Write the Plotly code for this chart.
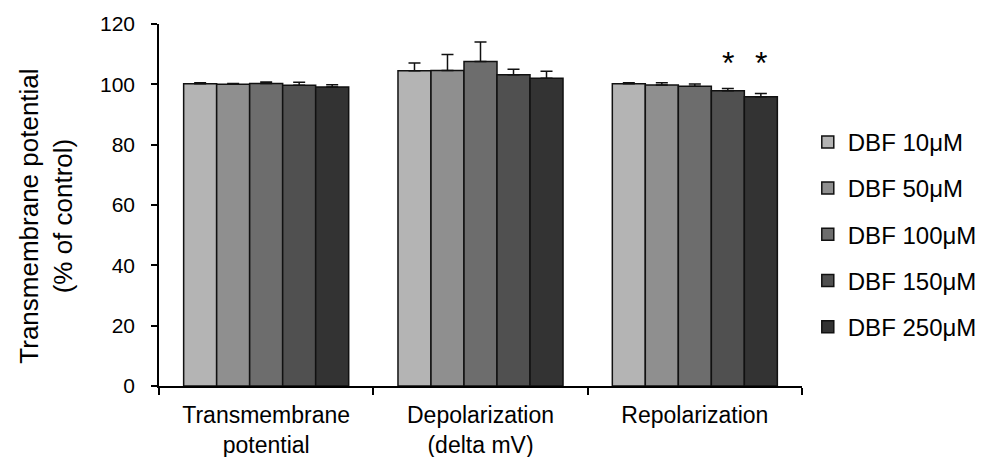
import plotly.graph_objects as go

categories = ["Transmembrane<br>potential", "Depolarization<br>(delta mV)", "Repolarization"]
series_names = ["DBF 10μM", "DBF 50μM", "DBF 100μM", "DBF 150μM", "DBF 250μM"]
values = [
    [100.2, 104.5, 100.2],
    [100.0, 104.6, 99.8],
    [100.3, 107.6, 99.4],
    [99.7, 103.2, 97.9],
    [99.1, 102.0, 95.9],
]
errors = [
    [0.3, 2.6, 0.3],
    [0.3, 5.3, 0.7],
    [0.5, 6.4, 0.7],
    [1.0, 1.8, 0.7],
    [0.8, 2.3, 1.1],
]
colors = ["#b4b4b4", "#8f8f8f", "#6d6d6d", "#505050", "#333333"]
star_category = "Repolarization"
star_series = [3, 4]
star_level = 107.2
y_ticks = [0, 20, 40, 60, 80, 100, 120]
y_title = "Transmembrane potential<br>(% of control)"

FONT = "Liberation Sans, Arial, sans-serif"

fig = go.Figure()
for i, name in enumerate(series_names):
    fig.add_trace(go.Bar(
        name=name,
        x=categories,
        y=values[i],
        marker=dict(color=colors[i], line=dict(color="#111111", width=1.5)),
        error_y=dict(type="data", symmetric=False, array=errors[i],
                     arrayminus=[0] * len(errors[i]),
                     color="#111111", thickness=1.5, width=6),
        legendgroup=name,
    ))

bar_px = 33
for s in star_series:
    fig.add_annotation(
        x=star_category, y=star_level, xref="x", yref="y",
        text="*", showarrow=False,
        xshift=(s - 2) * bar_px,
        font=dict(family=FONT, size=32, color="black"),
        yanchor="middle",
    )

fig.add_annotation(
    x=-0.176, y=0.47, xref="paper", yref="paper",
    text=y_title, showarrow=False, textangle=-90,
    xanchor="center", yanchor="middle",
    font=dict(family=FONT, size=26, color="black"),
)

fig.update_layout(
    width=991, height=457,
    margin=dict(l=159, r=188.5, t=24, b=71, autoexpand=False),
    paper_bgcolor="white", plot_bgcolor="white",
    barmode="group", bargap=0.23, bargroupgap=0,
    font=dict(family=FONT, color="black"),
    legend=dict(
        x=1.009, xanchor="left", y=0.419, yanchor="middle",
        font=dict(family=FONT, size=24, color="black"),
        tracegroupgap=12,
        bgcolor="rgba(0,0,0,0)",
    ),
    xaxis=dict(
        automargin=False,
        showline=True, linecolor="black", linewidth=1.5,
        ticks="outside", tickson="boundaries", ticklen=7, tickcolor="black", tickwidth=1.5,
        tickfont=dict(family=FONT, size=23, color="black"),
        ticklabelstandoff=8,
        showgrid=False, zeroline=False,
    ),
    yaxis=dict(
        automargin=False,
        range=[0, 120], tickvals=y_ticks,
        showline=True, linecolor="black", linewidth=1.5,
        ticks="outside", ticklen=6, tickcolor="black", tickwidth=1.5,
        tickfont=dict(family=FONT, size=21, color="black"),
        ticklabelstandoff=12,
        showgrid=False, zeroline=False,
    ),
)

fig.write_html("out.html")
